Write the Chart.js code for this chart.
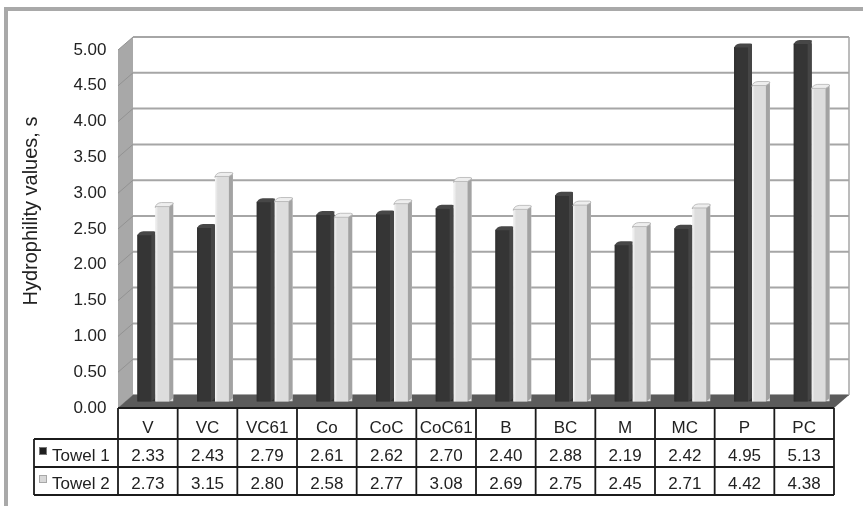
<!DOCTYPE html>
<html>
<head>
<meta charset="utf-8">
<title>Hydrophility values of towels</title>
<script src="https://cdn.jsdelivr.net/npm/chart.js@4.4.1/dist/chart.umd.min.js"></script>
<style>
    html, body { margin: 0; padding: 0; background: #fff; }
    canvas { display: block; }
</style>
</head>
<body>
<canvas id="hydroChart" width="863" height="506"></canvas>
<script>
// Sample codes and the two towel series
const categories = ['V', 'VC', 'VC61', 'Co', 'CoC', 'CoC61', 'B', 'BC', 'M', 'MC', 'P', 'PC'];
const towel1 = [2.33, 2.43, 2.79, 2.61, 2.62, 2.70, 2.40, 2.88, 2.19, 2.42, 4.95, 5.13];
const towel2 = [2.73, 3.15, 2.80, 2.58, 2.77, 3.08, 2.69, 2.75, 2.45, 2.71, 4.42, 4.38];
const seriesNames = ['Towel 1', 'Towel 2'];
const yTicks = [0, 0.5, 1, 1.5, 2, 2.5, 3, 3.5, 4, 4.5, 5];
const yTitle = 'Hydrophility values, s';

const FONT = '"Liberation Sans", Arial, sans-serif';
const TEXT = '#222222';

// depth of the box: back wall sits this far up/right of the front plane,
// the chart area itself is the middle plane where the bars stand
const DEPTH_X = 15;
const DEPTH_Y = 13;
const SIDE_X = 4;   // bar side face
const SIDE_Y = 3.5;

const CAT_ROW_H = 31;
const DATA_ROW_H = 28;
const LEGEND_COL_W = 84;

const looks = [
    { front: ['#2f2f2f', '#353535'], side: '#454545', top: '#474747', edge: null, key: '#1e1e1e', keyEdge: '#777' },
    { front: ['#f5f5f5', '#dddddd'], side: '#a3a3a3', top: '#eeeeee', edge: '#b3b3b3', key: '#d8d8d8', keyEdge: '#a8a8a8' }
];

Chart.defaults.font.family = FONT;

function planes(chart) {
    const { left, right, top, bottom } = chart.chartArea;
    const hx = DEPTH_X / 2, hy = DEPTH_Y / 2;
    return {
        hx, hy,
        fl: left - hx, fr: right - hx, fb: bottom + hy,
        bl: left + hx, br: right + hx, bb: bottom - hy, bt: top - hy
    };
}

function poly(ctx, pts, fill, stroke) {
    ctx.beginPath();
    ctx.moveTo(pts[0][0], pts[0][1]);
    for (let i = 1; i < pts.length; i++) ctx.lineTo(pts[i][0], pts[i][1]);
    ctx.closePath();
    ctx.fillStyle = fill;
    ctx.fill();
    if (stroke) {
        ctx.strokeStyle = stroke;
        ctx.lineWidth = 1;
        ctx.stroke();
    }
}

const boxPlugin = {
    id: 'box3d',
    beforeDraw(chart) {
        const ctx = chart.ctx;
        ctx.save();
        ctx.fillStyle = '#fff';
        ctx.fillRect(0, 0, chart.width, chart.height);
        // grey frame along the top and left
        ctx.fillStyle = '#a9a9a9';
        ctx.fillRect(4, 7, chart.width - 4, 4);
        ctx.fillRect(4, 7, 4, chart.height - 7);
        ctx.restore();
    },
    beforeDatasetsDraw(chart) {
        const ctx = chart.ctx;
        const y = chart.scales.y;
        const p = planes(chart);
        ctx.save();

        // left side wall
        poly(ctx, [[p.fl, p.fb], [p.fl, y.getPixelForValue(5) + p.hy], [p.bl, p.bt], [p.bl, p.bb]], '#a8a8a8');
        ctx.strokeStyle = '#929292';
        ctx.lineWidth = 1;
        yTicks.forEach(v => {
            const m = y.getPixelForValue(v);
            ctx.beginPath();
            ctx.moveTo(p.fl, m + p.hy);
            ctx.lineTo(p.bl, m - p.hy);
            ctx.stroke();
        });

        // back wall grid
        ctx.strokeStyle = '#a6a6a6';
        ctx.lineWidth = 2;
        yTicks.forEach(v => {
            const m = y.getPixelForValue(v) - p.hy;
            ctx.beginPath();
            ctx.moveTo(p.bl, m);
            ctx.lineTo(p.br, m);
            ctx.stroke();
        });
        ctx.lineWidth = 1.5;
        ctx.beginPath();
        ctx.moveTo(p.br, p.bt);
        ctx.lineTo(p.br, p.bb);
        ctx.stroke();

        // floor
        poly(ctx, [[p.fl, p.fb], [p.fr, p.fb], [p.br, p.bb], [p.bl, p.bb]], '#5b5b5b');
        ctx.restore();
    },
    afterDatasetsDraw(chart) {
        const ctx = chart.ctx;
        const areaTop = chart.chartArea.top;
        ctx.save();
        chart.data.datasets.forEach((ds, di) => {
            const look = looks[di];
            chart.getDatasetMeta(di).data.forEach(bar => {
                const { x, y, base, width } = bar.getProps(['x', 'y', 'base', 'width'], true);
                const L = x - width / 2, R = x + width / 2;
                const T = Math.max(y, areaTop);
                const fw = width - SIDE_X;

                const g = ctx.createLinearGradient(L, 0, L + fw, 0);
                g.addColorStop(0, look.front[0]);
                g.addColorStop(0.2, look.front[1]);
                g.addColorStop(1, look.front[1]);
                ctx.fillStyle = g;
                ctx.fillRect(L, T, fw, base - T);

                poly(ctx, [[L + fw, T], [R, T - SIDE_Y], [R, base - SIDE_Y], [L + fw, base]], look.side);

                // bevelled cap
                ctx.beginPath();
                ctx.moveTo(L, T + 1.5);
                ctx.quadraticCurveTo(L + 0.5, T - SIDE_Y + 0.5, L + SIDE_X + 2, T - SIDE_Y);
                ctx.lineTo(R - 1.5, T - SIDE_Y);
                ctx.quadraticCurveTo(R, T - SIDE_Y, R, T - SIDE_Y + 1.5);
                ctx.lineTo(L + fw, T + 0.5);
                ctx.lineTo(L, T + 0.5);
                ctx.closePath();
                ctx.fillStyle = look.top;
                ctx.fill();
                if (look.edge) {
                    ctx.strokeStyle = look.edge;
                    ctx.lineWidth = 0.8;
                    ctx.stroke();
                }
            });
        });
        ctx.restore();
    },
    afterDraw(chart) {
        const ctx = chart.ctx;
        const p = planes(chart);
        const n = categories.length;
        const colW = (p.fr - p.fl) / n;
        const rows = [p.fb, p.fb + CAT_ROW_H, p.fb + CAT_ROW_H + DATA_ROW_H, p.fb + CAT_ROW_H + 2 * DATA_ROW_H];
        const legL = p.fl - LEGEND_COL_W;
        ctx.save();

        // table grid
        ctx.strokeStyle = '#1b1b1b';
        ctx.lineWidth = 1.8;
        ctx.beginPath();
        ctx.moveTo(p.fl, rows[0]);
        ctx.lineTo(p.fr, rows[0]);
        for (let r = 1; r < rows.length; r++) {
            ctx.moveTo(legL, rows[r]);
            ctx.lineTo(p.fr, rows[r]);
        }
        ctx.moveTo(legL, rows[1]);
        ctx.lineTo(legL, rows[3]);
        for (let i = 0; i <= n; i++) {
            const cx = chart.scales.x.getPixelForValue(i) - colW / 2 - p.hx;
            ctx.moveTo(cx, rows[0]);
            ctx.lineTo(cx, rows[3]);
        }
        ctx.stroke();

        // cell texts
        ctx.fillStyle = TEXT;
        ctx.font = '17px ' + FONT;
        ctx.textAlign = 'center';
        ctx.textBaseline = 'alphabetic';
        categories.forEach((c, i) => {
            const cx = chart.scales.x.getPixelForValue(i) - p.hx;
            ctx.fillText(c, cx, rows[1] - 6);
            chart.data.datasets.forEach((ds, di) => {
                ctx.fillText(ds.data[i].toFixed(2), cx, rows[di + 2] - 6);
            });
        });

        // legend keys
        ctx.textAlign = 'left';
        seriesNames.forEach((name, di) => {
            const look = looks[di];
            const rb = rows[di + 2];
            ctx.fillStyle = look.key;
            ctx.fillRect(legL + 5.5, rb - 19.5, 7, 7);
            ctx.strokeStyle = look.keyEdge;
            ctx.lineWidth = 1;
            ctx.strokeRect(legL + 5.5, rb - 19.5, 7, 7);
            ctx.fillStyle = TEXT;
            ctx.fillText(name, legL + 18, rb - 6);
        });

        // axis title
        ctx.translate(31, 211);
        ctx.rotate(-Math.PI / 2);
        ctx.font = '20px ' + FONT;
        ctx.textAlign = 'center';
        ctx.textBaseline = 'middle';
        ctx.fillText(yTitle, 0, 0);
        ctx.restore();
    }
};

new Chart(document.getElementById('hydroChart'), {
    type: 'bar',
    data: {
        labels: categories,
        datasets: [
            { label: seriesNames[0], data: towel1, backgroundColor: looks[0].front[1], borderWidth: 0 },
            { label: seriesNames[1], data: towel2, backgroundColor: looks[1].front[1], borderWidth: 0 }
        ]
    },
    options: {
        responsive: false,
        animation: false,
        events: [],
        layout: { padding: { top: 43.5, right: 21.5, bottom: 104.5, left: 0 } },
        datasets: { bar: { categoryPercentage: 0.6, barPercentage: 1.0 } },
        plugins: {
            legend: { display: false },
            tooltip: { enabled: false }
        },
        scales: {
            x: { display: false },
            y: {
                min: 0,
                max: 5,
                afterFit: scale => { scale.width = 125.5; },
                afterBuildTicks: scale => { scale.ticks = yTicks.map(v => ({ value: v })); },
                grid: { display: false, drawTicks: false },
                border: { display: false },
                ticks: {
                    padding: 19,
                    labelOffset: 6.5,
                    color: TEXT,
                    font: { size: 17 },
                    callback: v => Number(v).toFixed(2)
                }
            }
        }
    },
    plugins: [boxPlugin]
});
</script>
</body>
</html>
